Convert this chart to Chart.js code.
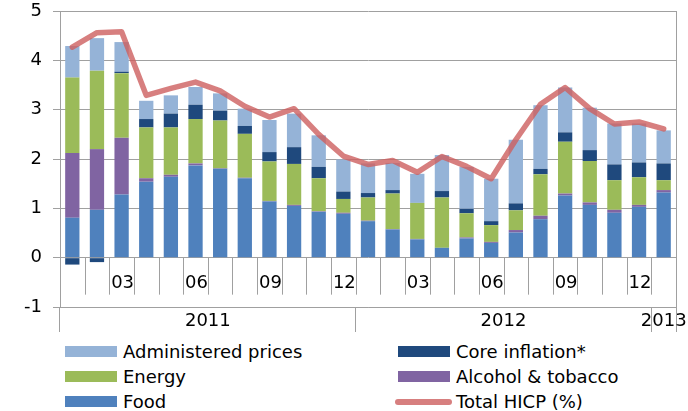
<!DOCTYPE html>
<html>
<head>
<meta charset="utf-8">
<script src="https://cdn.jsdelivr.net/npm/chart.js@4.4.0/dist/chart.umd.min.js"></script>
<style>
  body { margin: 0; background: #fff; font-family: "DejaVu Sans", Verdana, sans-serif; }
  #wrap { position: relative; width: 688px; height: 411px; overflow: hidden; }
  #box { position: absolute; left: 0; top: 0; width: 688px; height: 336px; }
  .lg { position: absolute; font-size: 18px; color: #000; line-height: 20px; white-space: nowrap; }
  .sw { position: absolute; width: 52px; height: 11px; }
</style>
</head>
<body>
<div id="wrap">
  <div id="box"><canvas id="myChart"></canvas></div>
  <div id="legend"></div>
</div>
<script>
// monthly data, Jan 2011 .. Jan 2013
const categories = ['2011-01','2011-02','2011-03','2011-04','2011-05','2011-06','2011-07','2011-08','2011-09','2011-10','2011-11','2011-12',
  '2012-01','2012-02','2012-03','2012-04','2012-05','2012-06','2012-07','2012-08','2012-09','2012-10','2012-11','2012-12','2013-01'];
const monthTickLabels = ['','','03','','','06','','','09','','','12','','','03','','','06','','','09','','','12',''];
const yearLabels = ['2011','2012','2013'];

const food      = [0.81,0.97,1.28,1.54,1.64,1.87,1.80,1.61,1.14,1.05,0.93,0.89,0.74,0.57,0.37,0.20,0.39,0.30,0.51,0.78,1.26,1.07,0.91,1.03,1.32];
const alcohol   = [1.31,1.23,1.15,0.07,0.04,0.04,0.01,0.01,0.01,0.02,0.01,0.02,0.01,0.01,0.01,0.00,0.02,0.02,0.05,0.07,0.04,0.05,0.06,0.04,0.05];
const energy    = [1.53,1.59,1.31,1.03,0.96,0.90,0.97,0.89,0.80,0.83,0.67,0.28,0.47,0.72,0.73,1.02,0.49,0.34,0.40,0.84,1.05,0.84,0.60,0.56,0.20];
const core      = [-0.14,-0.09,0.03,0.17,0.28,0.29,0.20,0.16,0.19,0.34,0.23,0.15,0.09,0.07,0.00,0.13,0.09,0.08,0.14,0.11,0.19,0.22,0.32,0.30,0.34];
const admin     = [0.64,0.66,0.60,0.37,0.37,0.36,0.35,0.35,0.65,0.68,0.64,0.65,0.60,0.55,0.59,0.73,0.85,0.86,1.29,1.29,0.91,0.86,0.83,0.79,0.67];
const totalHicp = [4.27,4.56,4.58,3.29,3.43,3.56,3.38,3.07,2.85,3.02,2.50,2.06,1.89,1.97,1.73,2.05,1.85,1.60,2.39,3.11,3.45,3.02,2.71,2.75,2.61];

const FONT = '"DejaVu Sans", Verdana, sans-serif';
const GRID = '#a0a0a0';

// month ticks, year labels and the frame bits Excel draws under the axis
const axisExtras = {
  id: 'axisExtras',
  afterDraw(chart) {
    const c = chart.ctx, xs = chart.scales.x, ys = chart.scales.y, a = chart.chartArea;
    const y0 = ys.getPixelForValue(0);
    const n = categories.length;
    const edge = i => i <= 0 ? a.left : i >= n ? a.right : (xs.getPixelForValue(i - 1) + xs.getPixelForValue(i)) / 2;
    c.save();
    c.strokeStyle = GRID;
    c.lineWidth = 1;
    c.beginPath();
    c.moveTo(a.right + 0.5, a.top);
    c.lineTo(a.right + 0.5, a.bottom);
    for (let i = 1; i <= n; i++) {
      const x = Math.round(edge(i)) + 0.5;
      c.moveTo(x, y0);
      c.lineTo(x, y0 + 37);
    }
    c.stroke();
    c.fillStyle = '#000';
    c.font = '18px ' + FONT;
    c.textAlign = 'center';
    c.textBaseline = 'middle';
    monthTickLabels.forEach((t, i) => { if (t) c.fillText(t, xs.getPixelForValue(i) + 1, y0 + 26); });
    yearLabels.forEach(yr => {
      const idx = categories.map((d, i) => d.startsWith(yr) ? i : -1).filter(i => i >= 0);
      const mid = (edge(idx[0]) + edge(idx[idx.length - 1] + 1)) / 2;
      c.fillText(yr, mid, a.bottom + 14);
    });
    c.restore();
  }
};

const yearEdges = [0, 12, 24];

new Chart(document.getElementById('myChart'), {
  data: {
    labels: categories,
    datasets: [
      { type: 'bar', label: 'Food', data: food, backgroundColor: '#4f81bd', stack: 'parts' },
      { type: 'bar', label: 'Alcohol & tobacco', data: alcohol, backgroundColor: '#8064a2', stack: 'parts' },
      { type: 'bar', label: 'Energy', data: energy, backgroundColor: '#9bbb59', stack: 'parts' },
      { type: 'bar', label: 'Core inflation*', data: core, backgroundColor: '#1f497d', stack: 'parts' },
      { type: 'bar', label: 'Administered prices', data: admin, backgroundColor: '#95b3d7', stack: 'parts' },
      { type: 'line', label: 'Total HICP (%)', data: totalHicp, stack: 'total', order: -1,
        borderColor: 'rgba(205,95,95,0.8)', borderWidth: 5.5, pointRadius: 0, tension: 0,
        borderJoinStyle: 'round', borderCapStyle: 'round' }
    ]
  },
  options: {
    responsive: true,
    maintainAspectRatio: false,
    animation: false,
    layout: { padding: { top: 11, right: 12, bottom: 4, left: 0 } },
    datasets: { bar: { barPercentage: 0.58, categoryPercentage: 1 } },
    plugins: { legend: { display: false }, tooltip: { enabled: false } },
    scales: {
      x: {
        stacked: true,
        offset: true,
        ticks: { display: false },
        grid: {
          offset: true, drawOnChartArea: false, drawTicks: true, tickLength: 25,
          color: ctx => (ctx.index === undefined || yearEdges.includes(ctx.index)) ? GRID : 'rgba(0,0,0,0)'
        },
        border: { color: GRID },
        afterFit: s => { s.height = 25; s.paddingLeft = 0; s.paddingRight = 0; }
      },
      y: {
        stacked: true,
        min: -1,
        max: 5,
        ticks: { stepSize: 1, color: '#000', font: { family: FONT, size: 18 }, padding: 11 },
        grid: { color: GRID, tickLength: 7 },
        border: { color: GRID },
        afterFit: s => { s.width = 60; s.paddingTop = 0; s.paddingBottom = 0; }
      }
    }
  },
  plugins: [axisExtras]
});

// legend, two columns like the original
const legendItems = [
  { text: 'Administered prices', color: '#95b3d7', x: 65, row: 0 },
  { text: 'Core inflation*', color: '#1f497d', x: 398, row: 0 },
  { text: 'Energy', color: '#9bbb59', x: 65, row: 1 },
  { text: 'Alcohol & tobacco', color: '#8064a2', x: 398, row: 1 },
  { text: 'Food', color: '#4f81bd', x: 65, row: 2 },
  { text: 'Total HICP (%)', color: '#d77f7f', x: 398, row: 2, line: true }
];
const lg = document.getElementById('legend');
legendItems.forEach(it => {
  const cy = 351.5 + it.row * 25;
  const sw = document.createElement('div');
  sw.className = 'sw';
  if (it.line) {
    sw.style.cssText = 'left:' + (it.x - 3) + 'px;top:' + (cy - 3) + 'px;width:57px;height:6px;border-radius:3px;background:' + it.color;
  } else {
    sw.style.cssText = 'left:' + it.x + 'px;top:' + (cy - 5.5) + 'px;background:' + it.color;
  }
  lg.appendChild(sw);
  const t = document.createElement('div');
  t.className = 'lg';
  t.style.left = (it.x + 58) + 'px';
  t.style.top = (cy - 10) + 'px';
  t.textContent = it.text;
  lg.appendChild(t);
});
</script>
</body>
</html>
